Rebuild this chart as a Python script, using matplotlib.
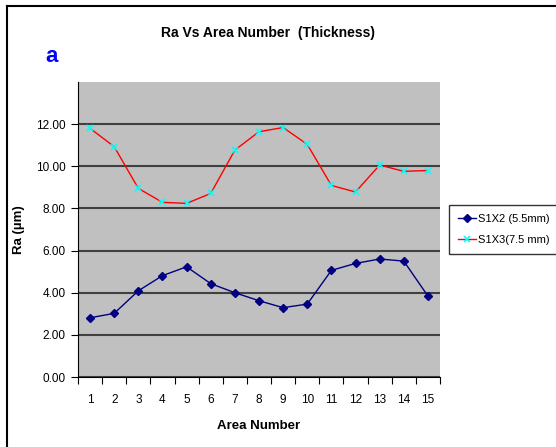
import matplotlib
matplotlib.use("Agg")
import matplotlib.pyplot as plt
from matplotlib.lines import Line2D

plt.rcParams['font.family'] = ['Liberation Sans', 'DejaVu Sans']

# data
AREAS = list(range(1, 16))
S1X2 = [2.81, 3.02, 4.09, 4.81, 5.23, 4.43, 4.00, 3.62, 3.29, 3.46, 5.06, 5.39, 5.60, 5.50, 3.84]
S1X3 = [11.80, 10.93, 8.95, 8.29, 8.24, 8.71, 10.77, 11.64, 11.84, 11.04, 9.09, 8.78, 10.06, 9.76, 9.80]
Y_TICKS = [0, 2, 4, 6, 8, 10, 12]
SERIES_NAMES = ["S1X2 (5.5mm)", "S1X3(7.5 mm)"]

W, H = 556, 447


def main():
    fig = plt.figure(figsize=(W / 100, H / 100), dpi=100)

    # outer chart border (left and top visible)
    fig.add_artist(Line2D([7 / W, 7 / W], [0, 1 - 6 / H], color="black", lw=1.5))
    fig.add_artist(Line2D([7 / W, 1], [1 - 6 / H, 1 - 6 / H], color="black", lw=1.5))

    left, right, bottom, top = 78 / W, 440 / W, 1 - 377 / H, 1 - 82 / H
    ax = fig.add_axes([left, bottom, right - left, top - bottom])
    ax.set_facecolor("#C0C0C0")

    ax.plot(AREAS, S1X2, color="#000080", lw=1, marker="D", markersize=4.5,
            markerfacecolor="#000080", markeredgecolor="#000080", label=SERIES_NAMES[0])
    ax.plot(AREAS, S1X3, color="#FF0000", lw=1, marker="x", markersize=4.5,
            markeredgecolor="#00FFFF", markeredgewidth=1.2, label=SERIES_NAMES[1])

    ax.set_xlim(0.5, 15.5)
    ax.set_ylim(0, 14)
    ax.set_yticks(Y_TICKS)
    ax.set_yticklabels(["%.2f" % v for v in Y_TICKS], fontsize=8.5)
    ax.yaxis.grid(True, color="#404040", lw=1.5)
    ax.set_axisbelow(True)

    # category ticks sit between categories, labels in the middle
    ax.set_xticks([i + 0.5 for i in range(0, 16)])
    ax.set_xticklabels([])
    ax.set_xticks(AREAS, minor=True)
    ax.set_xticklabels([str(a) for a in AREAS], minor=True, fontsize=8.5)
    ax.tick_params(axis="x", which="minor", length=0, pad=12)
    ax.tick_params(axis="x", which="major", length=5, direction="out")
    ax.tick_params(axis="y", length=5, direction="out", pad=4)

    for s in ["top", "right"]:
        ax.spines[s].set_visible(False)
    ax.spines["left"].set_color("black")
    ax.spines["bottom"].set_color("black")

    ax.set_xlabel("Area Number", fontsize=9.5, fontweight="bold", labelpad=10)
    ax.set_ylabel("Ra (\u00b5m)", fontsize=9.5, fontweight="bold", labelpad=8)

    fig.text(268 / W, 1 - 33 / H, "Ra Vs Area Number  (Thickness)", ha="center", va="center",
             fontsize=10, fontweight="bold")
    fig.text(52 / W, 1 - 57 / H, "a", ha="center", va="center", fontsize=16,
             fontweight="bold", color="#0000FF")

    leg = fig.legend(loc="upper left", bbox_to_anchor=(449 / W, 1 - 205 / H), fontsize=8,
                     frameon=True, fancybox=False, edgecolor="black", borderpad=0.8,
                     handlelength=1.6, handletextpad=0.25, labelspacing=1.0, borderaxespad=0)
    leg.get_frame().set_linewidth(1)

    fig.savefig("out.png", dpi=100, facecolor="white")


if __name__ == '__main__':
    main()
